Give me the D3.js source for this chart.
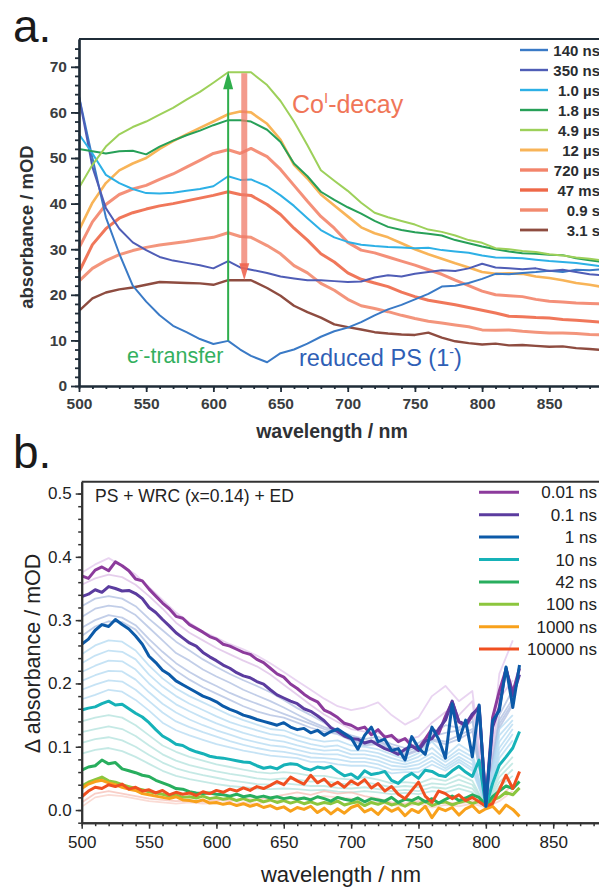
<!DOCTYPE html>
<html><head><meta charset="utf-8">
<script src="https://cdn.jsdelivr.net/npm/d3@7"></script>
<style>body{margin:0;background:#fff}svg{display:block}</style>
</head><body>
<svg id="c" width="599" height="887"></svg>
<script>
// ================= Panel a data =================
const wlA = [500,510,520,530,540,550,560,570,580,590,600,611,620,628,640,650,660,670,680,690,700,710,720,730,740,750,760,770,780,790,800,810,820,830,840,850,860,870,880,890];
const a140ns = [63.5,50,37,29,22,18.5,15.5,13.2,11.8,10.3,9.2,9.9,8,6.6,5.2,7.2,8,9.3,10.8,12,12.8,14,15.5,16.8,17.8,19,20.2,21.8,22,22.6,23.5,24.6,24.5,24.8,25,25.3,25,25.5,25.4,25.6];
const a350ns = [63.5,48,39,34.5,31.5,29.8,28.3,27.5,27,26.5,25.8,27.4,26,25.5,24.8,24,23.6,23.2,23.2,23,22.8,22.9,23.8,24.3,24,24.6,25,25.4,25.2,25.8,26.8,26,25.8,25.6,25.8,25.2,25.5,25,24.5,24.3];
const a1_0us = [55.2,51,46.3,44.5,43.2,42.3,42.2,42.4,42.8,43.2,43.8,46,45.2,45.3,43.8,41.8,39.5,36.8,34.2,32.6,31.6,31,30.7,30.5,30.4,30.2,30.3,29.8,29.5,29.2,28.6,28.2,28.1,28,27.7,27.4,27.2,27,26.6,26.2];
const a1_8us = [52,51.5,51,51.5,51.6,50.8,52.5,53.8,55,56,57.2,58.3,58.3,58,56.2,53.5,48.8,46,42.6,40.8,39.2,37.8,36.2,34.9,34.2,33.7,33.4,33,32,31.3,30.6,30,29.5,29.1,29,28.8,28.7,28,27.6,27.2];
const a4_9us = [43.5,48.5,52.5,55.2,56.8,58,59.5,61,62.8,64.5,66.5,68.8,68.8,68.8,66,62.5,58,52.8,47.3,45,42.8,40.2,38,37,36.2,35.4,34.3,33.8,33,32,31.4,30.2,30,29.6,29.4,28.9,28.6,28.2,27.9,27.5];
const a12us = [34.2,40.2,44.5,47.3,48.8,50,52,53.7,55.2,56.6,58,59.6,60.2,60,57.5,54,48.5,45.5,42,39.6,37.2,34.8,33.5,32.6,31.3,30,28.9,27.9,26.9,26,25,24.6,24.7,24.6,24,23.7,23.2,22.6,22.2,21.7];
const a720us = [30.3,36,39.8,42,43.2,44,45.3,46.5,48,49.5,51,51.8,51,52.1,50.3,47.5,44,40.5,37.2,34.6,31.5,29.8,29.2,28.3,27.4,26.5,25.5,24.5,23.2,22,20.8,20,19.8,19.6,19,18.6,18.4,18.2,18.1,18];
const a47ms = [25,31,34.5,36.8,38,38.8,39.5,40,40.6,41.2,41.8,42.6,42,41.8,39.8,37.6,34.6,32,29,27.2,24.8,23.4,22.6,21.8,20.6,19.6,18.8,18.3,17.8,17.2,16.6,16,15.3,15.2,15,14.9,14.6,14.4,14.2,14];
const a0_9s = [23,25.8,27.5,28.8,29.7,30.4,30.9,31.3,31.7,32.2,32.6,33.6,32.8,32.6,30.8,29,26.4,24.8,22.5,21,19,17.6,17,16.3,15.5,14.8,14.2,13.8,13.4,13,12.3,12.2,12.3,12,11.8,11.6,11.6,11.5,11.3,11.2];
const a3_1s = [16.5,19.2,20.5,21.2,21.6,22.2,22.8,22.7,22.6,22.5,22.2,23.2,23.2,23.2,21.5,19.8,17.6,16.2,15,13.5,12.9,12.4,11.8,11.5,11.3,11.2,11.7,10.6,9.8,9.4,9.1,9.3,8.9,9,8.8,8.6,8.7,8.3,8.1,7.9];
const labelsA = ["140 ns","350 ns","1.0 µs","1.8 µs","4.9 µs","12 µs","720 µs","47 ms","0.9 s","3.1 s"];
const xTicksA = [500,550,600,650,700,750,800,850];
const yTicksA = [0,10,20,30,40,50,60,70];
// arrows: wavelength, from value, to value
const arrowGreen = [611, 10, 69];
const arrowRed = [623, 68.6, 23.2];

// ================= Panel b data =================
const wlB = [500,505,510,515,520,525,530,535,540,545,550,555,560,565,570,575,580,585,590,595,600,605,610,615,620,625,630,635,640,645,650,655,660,665,670,675,680,685,690,695,700,705,710,715,720,725,730,735,740,745,750,755,760,765,770,775,780,785,790,795,800,805,810,815,820,825];
const b0_01ns = [.370,.366,.379,.384,.378,.392,.386,.378,.365,.362,.349,.338,.327,.318,.306,.303,.293,.287,.281,.274,.270,.262,.259,.254,.249,.246,.238,.233,.224,.215,.210,.199,.192,.183,.176,.171,.158,.153,.146,.137,.134,.128,.131,.119,.127,.115,.118,.108,.113,.101,.097,.112,.128,.121,.148,.171,.139,.133,.149,.164,.012,.146,.188,.222,.186,.224];
const b0_1ns = [.337,.341,.348,.344,.353,.350,.346,.347,.342,.334,.320,.312,.301,.291,.280,.272,.264,.259,.249,.242,.236,.229,.224,.217,.212,.209,.203,.199,.190,.182,.177,.172,.168,.160,.156,.149,.141,.130,.124,.117,.113,.112,.106,.109,.103,.097,.093,.088,.096,.101,.094,.109,.113,.128,.142,.172,.140,.135,.152,.161,.011,.131,.162,.224,.180,.214];
const b1ns = [.262,.270,.284,.293,.290,.301,.293,.286,.275,.262,.243,.233,.221,.214,.204,.198,.192,.186,.180,.176,.171,.164,.159,.155,.150,.147,.143,.140,.137,.134,.138,.131,.127,.129,.122,.126,.118,.124,.128,.121,.114,.096,.118,.131,.108,.112,.094,.097,.079,.116,.098,.088,.131,.112,.082,.168,.110,.142,.084,.166,.006,.141,.157,.226,.162,.229];
const b10ns = [.158,.161,.163,.168,.172,.166,.167,.160,.153,.147,.138,.127,.117,.111,.104,.102,.096,.092,.089,.085,.083,.082,.080,.078,.076,.075,.070,.066,.068,.065,.071,.073,.072,.066,.063,.068,.066,.069,.061,.054,.057,.050,.062,.056,.058,.061,.047,.042,.052,.058,.050,.063,.061,.055,.053,.062,.069,.060,.053,.079,.006,.042,.071,.084,.098,.124];
const b42ns = [.063,.068,.070,.079,.073,.075,.065,.062,.059,.055,.053,.047,.043,.039,.034,.033,.029,.027,.026,.027,.025,.024,.022,.025,.021,.023,.020,.022,.019,.021,.018,.020,.017,.019,.016,.021,.018,.014,.020,.017,.015,.019,.013,.018,.016,.014,.020,.012,.017,.015,.020,.013,.018,.011,.017,.022,.015,.019,.024,.020,.008,.021,.030,.038,.034,.045];
const b100ns = [.038,.044,.048,.052,.046,.044,.040,.037,.034,.032,.029,.027,.025,.022,.024,.020,.021,.019,.022,.018,.020,.017,.019,.015,.018,.014,.017,.013,.016,.012,.015,.011,.014,.010,.013,.009,.012,.010,.014,.008,.011,.013,.007,.012,.009,.013,.008,.011,.006,.012,.009,.014,.007,.011,.013,.008,.012,.015,.010,.014,.006,.016,.020,.028,.024,.035];
const b1000ns = [.034,.041,.045,.047,.043,.040,.036,.033,.031,.026,.024,.022,.020,.018,.021,.016,.015,.013,.016,.011,.012,.009,.011,.007,.010,.006,.009,.004,.007,.002,.005,-.002,.004,.001,.006,-.004,.003,-.006,.002,-.005,.004,.008,-.003,.002,-.007,.005,-.002,.003,-.009,.001,-.004,.006,-.012,.003,-.001,.004,-.008,.002,.007,-.004,.002,.006,-.005,.008,.001,-.010];
const b10000ns = [.021,.030,.036,.034,.040,.037,.041,.033,.036,.030,.032,.027,.031,.024,.028,.025,.027,.023,.029,.026,.031,.028,.033,.030,.035,.031,.037,.034,.039,.045,.040,.052,.046,.041,.055,.043,.049,.038,.044,.036,.046,.040,.048,.035,.042,.030,.037,.025,.018,.031,.044,.022,.012,.030,.026,.018,.024,.015,.020,.013,.006,.010,.032,.055,.034,.061];
const labelsB = ["0.01 ns","0.1 ns","1 ns","10 ns","42 ns","100 ns","1000 ns","10000 ns"];
// faint intermediate traces (10 nm sampling)
const wlF = [500,510,520,530,540,550,560,570,580,590,600,610,620,630,640,650,660,670,680,690,700,710,720,730,740,750,760,770,780,790,800,810,820];
const fL1 = [.356,.366,.372,.368,.356,.338,.318,.296,.280,.268,.256,.246,.236,.227,.214,.198,.182,.166,.151,.139,.128,.124,.122,.114,.110,.116,.138,.155,.150,.172,.010,.176,.205];
const fL2 = [.375,.388,.398,.386,.372,.352,.332,.312,.296,.282,.272,.262,.254,.244,.232,.218,.204,.190,.176,.164,.158,.162,.170,.150,.135,.146,.180,.196,.172,.188,.012,.215,.268];
const fG1 = [.322,.334,.338,.334,.322,.302,.284,.266,.252,.238,.226,.215,.205,.196,.186,.174,.161,.150,.138,.126,.118,.112,.116,.104,.098,.106,.120,.134,.130,.148,.010,.150,.190];
const fG2 = [.305,.318,.323,.320,.308,.288,.268,.248,.236,.222,.211,.201,.190,.181,.172,.162,.151,.140,.131,.124,.114,.108,.110,.100,.092,.100,.116,.122,.126,.140,.009,.142,.176];
const fG3 = [.288,.300,.308,.304,.292,.270,.250,.232,.218,.206,.196,.185,.176,.168,.160,.152,.144,.136,.128,.122,.112,.104,.108,.098,.088,.096,.112,.108,.118,.128,.008,.136,.170];
const fG4 = [.275,.290,.298,.297,.285,.260,.238,.220,.206,.194,.184,.174,.164,.156,.150,.146,.138,.130,.124,.120,.110,.102,.104,.096,.086,.094,.110,.104,.112,.124,.008,.130,.166];
const fS1 = [.246,.260,.268,.266,.252,.228,.208,.192,.180,.170,.160,.150,.142,.135,.128,.126,.118,.112,.108,.110,.102,.100,.096,.088,.080,.090,.108,.086,.104,.090,.008,.128,.150];
const fS2 = [.232,.244,.252,.250,.238,.214,.195,.180,.168,.158,.148,.139,.132,.126,.120,.117,.110,.104,.100,.102,.094,.094,.090,.082,.076,.084,.098,.080,.096,.084,.008,.118,.142];
const fS3 = [.218,.228,.236,.235,.222,.200,.182,.167,.156,.146,.137,.129,.122,.116,.111,.108,.102,.097,.094,.095,.088,.088,.084,.076,.072,.078,.090,.076,.090,.078,.007,.108,.136];
const fS4 = [.204,.213,.220,.219,.206,.186,.168,.154,.143,.134,.126,.119,.112,.107,.102,.100,.095,.090,.088,.088,.082,.082,.078,.070,.068,.072,.084,.070,.084,.072,.007,.098,.128];
const fS5 = [.190,.198,.205,.203,.190,.172,.154,.140,.131,.123,.116,.109,.103,.098,.094,.092,.088,.083,.082,.080,.076,.076,.072,.064,.064,.066,.078,.066,.080,.066,.007,.090,.120];
const fS6 = [.175,.182,.190,.187,.174,.157,.138,.126,.118,.111,.104,.099,.094,.090,.086,.084,.082,.076,.076,.072,.070,.070,.066,.058,.060,.060,.072,.062,.076,.062,.007,.082,.110];
const fT1 = [.140,.146,.150,.146,.134,.118,.102,.092,.084,.078,.072,.068,.064,.060,.058,.060,.058,.054,.054,.050,.048,.052,.048,.042,.044,.042,.050,.046,.056,.046,.006,.060,.084];
const fT2 = [.123,.128,.132,.128,.117,.102,.088,.078,.071,.066,.061,.057,.054,.050,.048,.050,.048,.045,.046,.042,.040,.044,.040,.036,.038,.036,.042,.040,.048,.040,.006,.052,.074];
const fT3 = [.106,.112,.115,.110,.100,.087,.075,.066,.060,.055,.051,.047,.044,.041,.040,.042,.040,.038,.038,.035,.034,.036,.033,.030,.032,.030,.036,.034,.040,.034,.006,.044,.064];
const fT4 = [.089,.095,.098,.093,.084,.073,.062,.054,.049,.045,.041,.038,.036,.034,.033,.034,.033,.031,.032,.029,.028,.030,.028,.025,.027,.025,.030,.028,.034,.028,.006,.037,.054];
const fP1 = [.012,.026,.030,.026,.022,.018,.016,.014,.015,.013,.016,.014,.018,.016,.020,.024,.028,.024,.030,.026,.028,.022,.018,.012,.010,.014,.008,.012,.010,.014,.006,.020,.040];
const fP2 = [.005,.020,.024,.022,.018,.014,.012,.010,.012,.010,.011,.009,.012,.010,.014,.016,.020,.018,.022,.020,.018,.014,.012,.008,.006,.010,.004,.008,.006,.010,.004,.014,.030];
const xTicksB = [500,550,600,650,700,750,800,850];
const yTicksB = [0,0.1,0.2,0.3,0.4,0.5];

// ================= Styles =================
const FONT = "'Liberation Sans', Arial, Helvetica, sans-serif";
const colorsA = ["#3a7ac6","#4f5db6","#2db0e6","#27a058","#9dd05a","#f8b458","#f3846a","#ee6848","#f28a6e","#8e4c40"];
const widthsA = [2,2,2,2,2,2.6,3,3,3,2.4];
const colorsB = ["#8c3b9c","#5b3c9f","#0c5aa8","#16b2b8","#28ae5e","#8cc63e","#f8a11b","#f04f20"];
const faintColors = ["#dcbde6","#e2c6ec","#aebde0","#aebde0","#aebde0","#aebde0","#b3daf2","#b3daf2","#b3daf2","#b3daf2","#b3daf2","#b3daf2","#b2e2dc","#b2e2dc","#b2e2dc","#b2e2dc","#f6bdb4","#f8cfc6"];

const svg = d3.select("#c");

// ================= Panel a =================
const xA = d3.scaleLinear().domain([500, 887]).range([79, 599]);
const yA = d3.scaleLinear().domain([0, 76.1]).range([386, 39]);
const gA = svg.append("g");
const axisColA = "#1f2c38";

const seriesA = [a140ns,a350ns,a1_0us,a1_8us,a4_9us,a12us,a720us,a47ms,a0_9s,a3_1s];
const lineA = d3.line().x((d,i)=>xA(wlA[i])).y(d=>yA(d));
const drawOrderA = [9,8,7,6,5,0,1,2,3,4];
drawOrderA.forEach(k=>{
  gA.append("path").attr("d", lineA(seriesA[k])).attr("fill","none")
    .attr("stroke", colorsA[k]).attr("stroke-width", widthsA[k])
    .attr("stroke-linejoin","round").attr("opacity", k>=6 && k<=8 ? 0.9 : 1);
});

// arrows
{
  const gx = xA(arrowGreen[0]);
  gA.append("line").attr("x1",gx).attr("x2",gx).attr("y1",yA(arrowGreen[1])).attr("y2",yA(arrowGreen[2])+12)
    .attr("stroke","#2fae4c").attr("stroke-width",2);
  const ty = yA(arrowGreen[2]);
  gA.append("path").attr("d",`M${gx},${ty} L${gx-5},${ty+18} L${gx+5},${ty+18} Z`).attr("fill","#2fae4c");
  const rx = xA(arrowRed[0]);
  const by = yA(arrowRed[2]);
  gA.append("line").attr("x1",rx).attr("x2",rx).attr("y1",yA(arrowRed[1])).attr("y2",by-14)
    .attr("stroke","#f07a68").attr("stroke-width",6).attr("opacity",0.75);
  gA.append("path").attr("d",`M${rx},${by} L${rx-5},${by-17} L${rx+5},${by-17} Z`).attr("fill","#f06450").attr("opacity",0.9);
}

// axes a
gA.append("line").attr("x1",xA(500)).attr("x2",599).attr("y1",yA(76.1)).attr("y2",yA(76.1))
  .attr("stroke",axisColA).attr("stroke-width",2.2);
const yAxA = gA.append("g").attr("transform",`translate(${xA(500)},0)`)
  .call(d3.axisLeft(yA).tickValues(yTicksA).tickSize(8).tickSizeOuter(0).tickPadding(4));
const yAxAm = gA.append("g").attr("transform",`translate(${xA(500)},0)`)
  .call(d3.axisLeft(yA).tickValues(d3.range(0,76,2)).tickSize(4).tickSizeOuter(0).tickFormat(""));
const xAxA = gA.append("g").attr("transform",`translate(0,${yA(0)})`)
  .call(d3.axisBottom(xA).tickValues(xTicksA).tickSize(6).tickSizeOuter(0).tickPadding(6));
const xAxAm = gA.append("g").attr("transform",`translate(0,${yA(0)})`)
  .call(d3.axisBottom(xA).tickValues(d3.range(500,890,10)).tickSize(3).tickSizeOuter(0).tickFormat(""));
[yAxA,yAxAm,xAxA,xAxAm].forEach(g=>{
  g.select(".domain").attr("stroke",axisColA).attr("stroke-width",2.2);
  g.selectAll(".tick line").attr("stroke",axisColA).attr("stroke-width",1.8);
  g.selectAll("text").attr("font-family",FONT).attr("font-size",15.5).attr("font-weight","bold").attr("fill","#3a3d40");
});

gA.append("text").attr("transform","translate(33,227) rotate(-90)").attr("text-anchor","middle")
  .attr("font-family",FONT).attr("font-size",18.5).attr("font-weight","bold").attr("fill","#2e3134")
  .text("absorbance / mOD");
gA.append("text").attr("x",332).attr("y",438).attr("text-anchor","middle")
  .attr("font-family",FONT).attr("font-size",19.5).attr("font-weight","bold").attr("fill","#2e3134")
  .text("wavelength / nm");

// legend a
labelsA.forEach((lab,i)=>{
  const y = 50 + i*20;
  gA.append("line").attr("x1",520).attr("x2",548).attr("y1",y).attr("y2",y)
    .attr("stroke",colorsA[i]).attr("stroke-width",widthsA[i]+0.4);
  gA.append("text").attr("x",600).attr("y",y+5.5).attr("text-anchor","end")
    .attr("font-family",FONT).attr("font-size",15).attr("font-weight","bold").attr("fill","#2a2d30").text(lab);
});

// annotations a
{
  const t = gA.append("text").attr("x",292).attr("y",113).attr("font-family",FONT).attr("font-size",25).attr("fill","#f07658");
  t.append("tspan").text("Co");
  t.append("tspan").attr("dy",-10).attr("font-size",15).text("I");
  t.append("tspan").attr("dy",10).text("-decay");
  const e = gA.append("text").attr("x",127).attr("y",363).attr("font-family",FONT).attr("font-size",21.5).attr("fill","#33b05e");
  e.append("tspan").text("e");
  e.append("tspan").attr("dy",-9).attr("font-size",13).text("-");
  e.append("tspan").attr("dy",9).text("-transfer");
  const r = gA.append("text").attr("x",299).attr("y",366).attr("font-family",FONT).attr("font-size",23.5).attr("fill","#2f5fb6");
  r.append("tspan").text("reduced PS (1");
  r.append("tspan").attr("dy",-9).attr("font-size",14).text("-");
  r.append("tspan").attr("dy",9).text(")");
}
svg.append("text").attr("x",13).attr("y",42).attr("font-family",FONT).attr("font-size",46).attr("fill","#1a1a1a").text("a.");

// ================= Panel b =================
const xB = d3.scaleLinear().domain([500, 884]).range([81.7, 599]);
const yB = d3.scaleLinear().domain([-0.02, 0.5187]).range([822.7, 481.7]);
const gB = svg.append("g");
const axisColB = "#333";

const faint = [fL1,fL2,fG1,fG2,fG3,fG4,fS1,fS2,fS3,fS4,fS5,fS6,fT1,fT2,fT3,fT4,fP1,fP2];
const lineF = d3.line().x((d,i)=>xB(wlF[i])).y(d=>yB(d));
faint.forEach((s,k)=>{
  gB.append("path").attr("d",lineF(s)).attr("fill","none").attr("stroke",faintColors[k])
    .attr("stroke-width",1.8).attr("opacity",0.75).attr("stroke-linejoin","round");
});
const seriesB = [b0_01ns,b0_1ns,b1ns,b10ns,b42ns,b100ns,b1000ns,b10000ns];
const lineB = d3.line().x((d,i)=>xB(wlB[i])).y(d=>yB(d));
const drawOrderB = [5,6,4,7,3,0,1,2];
drawOrderB.forEach(k=>{
  gB.append("path").attr("d",lineB(seriesB[k])).attr("fill","none").attr("stroke",colorsB[k])
    .attr("stroke-width",3).attr("stroke-linejoin","round");
});

gB.append("line").attr("x1",xB(500)).attr("x2",599).attr("y1",yB(0.5187)).attr("y2",yB(0.5187))
  .attr("stroke",axisColB).attr("stroke-width",2);
const yAxB = gB.append("g").attr("transform",`translate(${xB(500)},0)`)
  .call(d3.axisLeft(yB).tickValues(yTicksB).tickSize(6).tickSizeOuter(0).tickPadding(4).tickFormat(d3.format(".1f")));
const yAxBm = gB.append("g").attr("transform",`translate(${xB(500)},0)`)
  .call(d3.axisLeft(yB).tickValues(d3.range(-0.02,0.52,0.02)).tickSize(3.5).tickSizeOuter(0).tickFormat(""));
const xAxB = gB.append("g").attr("transform",`translate(0,${yB(-0.02)})`)
  .call(d3.axisBottom(xB).tickValues(xTicksB).tickSize(6).tickSizeOuter(0).tickPadding(7));
const xAxBm = gB.append("g").attr("transform",`translate(0,${yB(-0.02)})`)
  .call(d3.axisBottom(xB).tickValues(d3.range(500,885,10)).tickSize(3.5).tickSizeOuter(0).tickFormat(""));
[yAxB,yAxBm,xAxB,xAxBm].forEach(g=>{
  g.select(".domain").attr("stroke",axisColB).attr("stroke-width",2);
  g.selectAll(".tick line").attr("stroke",axisColB).attr("stroke-width",1.5);
  g.selectAll("text").attr("font-family",FONT).attr("font-size",17).attr("fill","#222");
});

gB.append("text").attr("transform","translate(40,653.5) rotate(-90)").attr("text-anchor","middle")
  .attr("font-family",FONT).attr("font-size",21.5).attr("fill","#222").text("Δ absorbance / mOD");
gB.append("text").attr("x",341).attr("y",881.5).attr("text-anchor","middle")
  .attr("font-family",FONT).attr("font-size",22).attr("fill","#222").text("wavelength / nm");
gB.append("text").attr("x",95).attr("y",502.3).attr("font-family",FONT).attr("font-size",17.5)
  .attr("fill","#222").text("PS + WRC (x=0.14) + ED");

labelsB.forEach((lab,i)=>{
  const y = 492.3 + i*22.4;
  gB.append("line").attr("x1",479).attr("x2",519).attr("y1",y).attr("y2",y)
    .attr("stroke",colorsB[i]).attr("stroke-width",3);
  gB.append("text").attr("x",597).attr("y",y+6).attr("text-anchor","end")
    .attr("font-family",FONT).attr("font-size",17).attr("fill","#222").text(lab);
});
svg.append("text").attr("x",13).attr("y",468).attr("font-family",FONT).attr("font-size",46).attr("fill","#1a1a1a").text("b.");
</script>
</body></html>
